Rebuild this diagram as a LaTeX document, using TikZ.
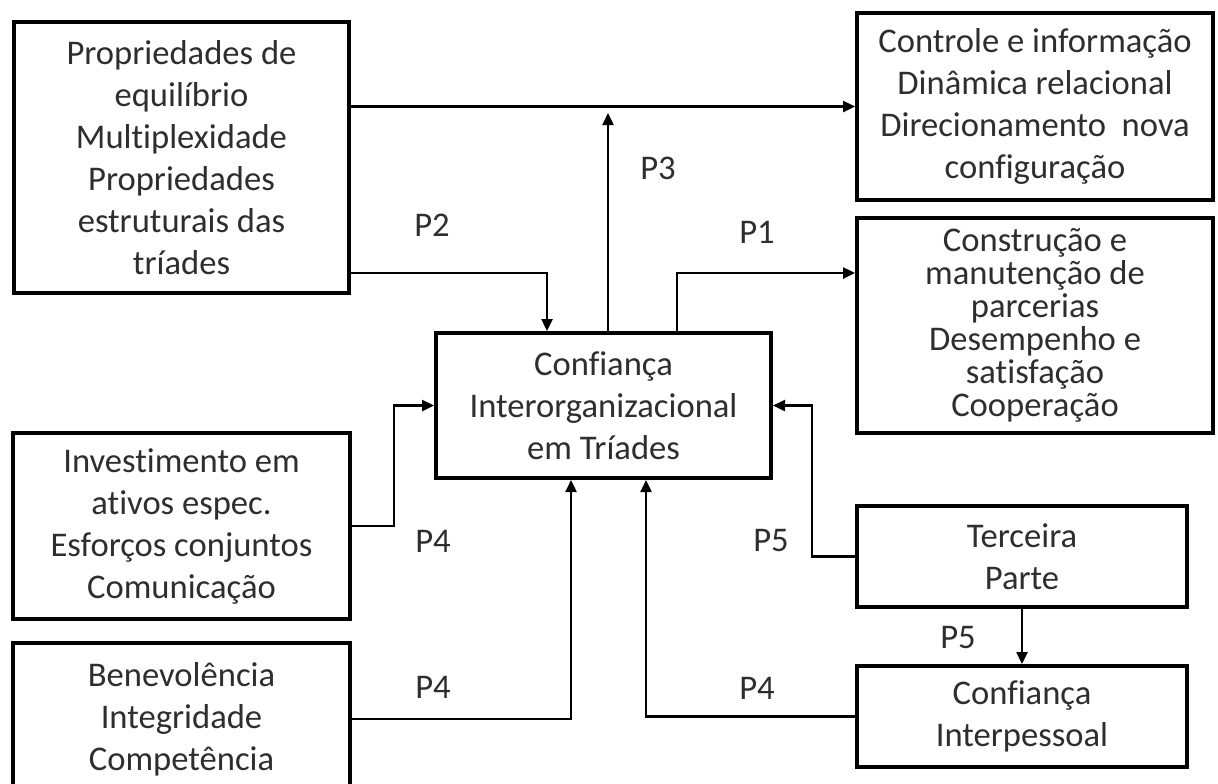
\documentclass[tikz,border=0pt]{standalone}
\usepackage{fontspec}
\setmainfont{Carlito}[Ligatures=NoCommon]
\usetikzlibrary{arrows.meta}

\tikzset{
  caixa/.style={draw, line width=2pt, align=center, inner sep=0pt, text=black!82, font=\fontsize{17.3}{21}\selectfont},
  caixa estreita/.style={caixa, font=\fontsize{17.3}{16.5}\selectfont},
  seta/.style={line width=1.2pt, -{Triangle[length=6pt,width=5.5pt]}},
  rotulo/.style={inner sep=0pt, text=black!82, font=\fontsize{17.3}{21}\selectfont}
}

\begin{document}
\begin{tikzpicture}[x=0.5pt,y=-0.5pt]
\clip (0,0) rectangle (1218,783);
\fill[white] (0,0) rectangle (1218,783);
% caixas
\node[caixa, minimum width=167.5pt, minimum height=135.5pt] (propriedades) at (181.5,157.5)
  {Propriedades de\\ equilíbrio\\ Multiplexidade\\ Propriedades\\ estruturais das\\ tríades};
\node[caixa, minimum width=178pt, minimum height=93.5pt] (controle) at (1035,106.5)
  {Controle e informação\\ Dinâmica relacional\\ Direcionamento\ \ nova\\ configuração};
\node[caixa estreita, minimum width=178pt, minimum height=107.5pt] (construcao) at (1035,325.5)
  {Construção e\\ manutenção de\\ parcerias\\ Desempenho e\\ satisfação\\ Cooperação};
\node[caixa, minimum width=167.5pt, minimum height=72.5pt] (confianca) at (603.5,405.5)
  {Confiança\\ Interorganizacional\\ em Tríades};
\node[caixa, minimum width=168.5pt, minimum height=93pt] (investimento) at (181.5,526)
  {Investimento em\\ ativos espec.\\ Esforços conjuntos\\ Comunicação};
\node[caixa, minimum width=168.5pt, minimum height=76pt] (benevolencia) at (181.5,719)
  {Benevolência\\ Integridade\\ Competência};
\node[caixa, minimum width=165pt, minimum height=50.5pt] (terceira) at (1022,556.5)
  {Terceira\\ Parte};
\node[caixa, minimum width=165pt, minimum height=50.5pt] (interpessoal) at (1022,716.5)
  {Confiança\\ Interpessoal};

% pontos de dobra
\coordinate (p3topo) at (608,113);
\coordinate (p2dobra) at (547,273);
\coordinate (p1dobra) at (677,273);
\coordinate (p4esq) at (571,0);
\coordinate (p4dir) at (646,0);

% setas
\draw[seta] (propriedades.east |- controle.west) -- (controle.west);
\draw[seta] (p3topo |- confianca.north) -- (p3topo);
\draw[seta] (propriedades.east |- p2dobra) -- (p2dobra) -- (p2dobra |- confianca.north);
\draw[seta] (p1dobra |- confianca.north) -- (p1dobra) -- (p1dobra -| construcao.west);
\draw[seta] (investimento.east) -- ++(42,0) |- (confianca.west);
\draw[seta] (benevolencia.east) -| (p4esq |- confianca.south);
\draw[seta] (interpessoal.west) -| (p4dir |- confianca.south);
\draw[seta] (terceira.west) -- ++(-43,0) |- (confianca.east);
\draw[seta] (terceira.south) -- (interpessoal.north);

% rotulos
\node[rotulo] (r2) at (432,225) {P2};
\node[rotulo] (r3) at (658,168) {P3};
\node[rotulo] (r1) at (757,232) {P1};
\node[rotulo] (r4a) at (433,541) {P4};
\node[rotulo] (r4b) at (433,687) {P4};
\node[rotulo] (r4c) at (757,688) {P4};
\node[rotulo] (r5a) at (771,541) {P5};
\node[rotulo] (r5b) at (958,637) {P5};
\end{tikzpicture}
\end{document}
